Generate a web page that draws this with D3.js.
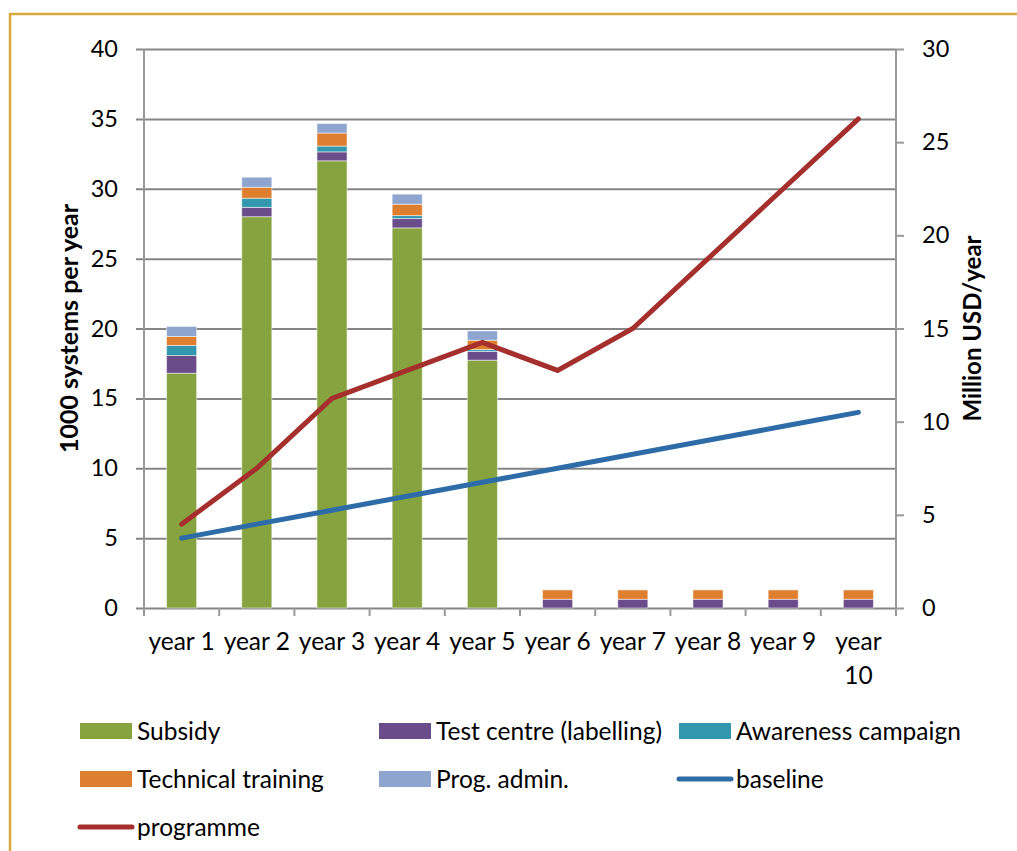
<!DOCTYPE html>
<meta charset="utf-8">
<title>Programme costs and systems per year</title>
<style>
    body {
        margin: 0;
        background: #fff;
    }
    text {
        font-family: Lato, "Open Sans", sans-serif;
        fill: #000;
    }
</style>

<body>
    <script src="https://d3js.org/d3.v7.min.js"></script>
    <script>
        /* Categories */
        var years = ["year 1", "year 2", "year 3", "year 4", "year 5", "year 6", "year 7", "year 8", "year 9", "year 10"];

        /* Cost components, million USD per year (right axis) */
        var subsidy = [12.6, 21.0, 24.0, 20.4, 13.3, 0, 0, 0, 0, 0];
        var testCentre = [0.95, 0.5, 0.48, 0.5, 0.47, 0.47, 0.47, 0.47, 0.47, 0.47];
        var awareness = [0.54, 0.49, 0.31, 0.16, 0.1, 0, 0, 0, 0, 0];
        var training = [0.48, 0.59, 0.7, 0.61, 0.5, 0.5, 0.5, 0.5, 0.5, 0.5];
        var admin = [0.54, 0.54, 0.51, 0.54, 0.5, 0, 0, 0, 0, 0];

        /* Systems, 1000 per year (left axis) */
        var baseline = [5, 6, 7, 8, 9, 10, 11, 12, 13, 14];
        var programme = [6, 10, 15, 17, 19, 17, 20, 25, 30, 35];

        var leftTicks = [0, 5, 10, 15, 20, 25, 30, 35, 40];
        var rightTicks = [0, 5, 10, 15, 20, 25, 30];

        var seriesNames = ["Subsidy", "Test centre (labelling)", "Awareness campaign", "Technical training", "Prog. admin."];
        var seriesColors = ["#86a33f", "#6a4c8b", "#3296ae", "#dd7f2e", "#8ea6cf"];

        /* Layout */
        var width = 1017,
            height = 851;
        var plotL = 144, plotR = 896, plotT = 49, plotB = 608;

        var svg = d3.select("body").append("svg")
            .attr("width", width)
            .attr("height", height);

        /* gold frame */
        svg.append("rect")
            .attr("x", 10)
            .attr("y", 14)
            .attr("width", 1100)
            .attr("height", 1000)
            .attr("fill", "#fff")
            .attr("stroke", "#d6ab3c")
            .attr("stroke-width", 2.5);

        var x = d3.scaleBand()
            .domain(years)
            .range([plotL, plotR])
            .paddingInner(0.6)
            .paddingOuter(0.3);
        var step = x.step();

        var yLeft = d3.scaleLinear().domain([0, 40]).range([plotB, plotT]);
        var yRight = d3.scaleLinear().domain([0, 30]).range([plotB, plotT]);

        /* gridlines + left axis */
        var leftAxis = d3.axisLeft(yLeft)
            .tickValues(leftTicks)
            .tickSize(-(plotR - plotL))
            .tickPadding(26);
        var gl = svg.append("g")
            .attr("transform", "translate(" + plotL + ",0)")
            .call(leftAxis);
        gl.select(".domain").remove();
        gl.selectAll(".tick line")
            .attr("x1", -8)
            .attr("stroke", "#858585")
            .attr("stroke-width", 2);
        gl.selectAll(".tick text")
            .style("font-size", "23.5px");

        /* right axis */
        var rightAxis = d3.axisRight(yRight)
            .tickValues(rightTicks)
            .tickSize(8)
            .tickPadding(18);
        var gr = svg.append("g")
            .attr("transform", "translate(" + plotR + ",0)")
            .call(rightAxis);
        gr.select(".domain")
            .attr("d", "M0," + plotT + "V" + plotB)
            .attr("stroke", "#999")
            .attr("stroke-width", 2);
        gr.selectAll(".tick line")
            .attr("stroke", "#999")
            .attr("stroke-width", 2);
        gr.selectAll(".tick text")
            .style("font-size", "23.5px");

        /* left axis line */
        svg.append("line")
            .attr("x1", plotL).attr("x2", plotL)
            .attr("y1", plotT).attr("y2", plotB)
            .attr("stroke", "#999")
            .attr("stroke-width", 2);

        /* x axis ticks between categories */
        var bounds = years.map(function (d) { return x(d) + x.bandwidth() / 2 - step / 2; });
        bounds.push(plotR);
        svg.selectAll("line.xtick")
            .data(bounds)
            .enter()
            .append("line")
            .attr("class", "xtick")
            .attr("x1", function (d) { return d; })
            .attr("x2", function (d) { return d; })
            .attr("y1", plotB)
            .attr("y2", plotB + 8)
            .attr("stroke", "#999")
            .attr("stroke-width", 2);

        /* x labels, last one wraps */
        years.forEach(function (d) {
            var cx = x(d) + x.bandwidth() / 2;
            var t = svg.append("text")
                .attr("x", cx)
                .attr("y", 650)
                .attr("text-anchor", "middle")
                .style("font-size", "24.5px");
            if (d === "year 10") {
                t.append("tspan").attr("x", cx).text("year");
                t.append("tspan").attr("x", cx).attr("dy", 34).text("10");
            } else {
                t.text(d);
            }
        });

        /* stacked bars */
        var table = years.map(function (d, i) {
            return { year: d, s0: subsidy[i], s1: testCentre[i], s2: awareness[i], s3: training[i], s4: admin[i] };
        });
        var stack = d3.stack().keys(["s0", "s1", "s2", "s3", "s4"])(table);

        svg.selectAll("g.series")
            .data(stack)
            .enter()
            .append("g")
            .attr("class", "series")
            .attr("fill", function (d, i) { return seriesColors[i]; })
            .selectAll("rect")
            .data(function (d) { return d.filter(function (p) { return p[1] - p[0] > 0; }); })
            .enter()
            .append("rect")
            .attr("x", function (d) { return x(d.data.year); })
            .attr("width", x.bandwidth())
            .attr("y", function (d) { return yRight(d[1]); })
            .attr("height", function (d) { return yRight(d[0]) - yRight(d[1]); })
            .attr("stroke", "#fff")
            .attr("stroke-opacity", 0.5)
            .attr("stroke-width", 1);

        /* lines */
        var line = d3.line()
            .x(function (d, i) { return x(years[i]) + x.bandwidth() / 2; })
            .y(function (d) { return yLeft(d); });

        svg.append("path")
            .datum(baseline)
            .attr("d", line)
            .attr("fill", "none")
            .attr("stroke", "#2e6ca8")
            .attr("stroke-width", 5)
            .attr("stroke-linecap", "round")
            .attr("stroke-linejoin", "round");

        svg.append("path")
            .datum(programme)
            .attr("d", line)
            .attr("fill", "none")
            .attr("stroke", "#a52f2c")
            .attr("stroke-width", 5)
            .attr("stroke-linecap", "round");

        /* axis titles */
        svg.append("text")
            .attr("transform", "translate(78," + (plotT + plotB) / 2 + ") rotate(-90)")
            .attr("text-anchor", "middle")
            .style("font-size", "25px")
            .style("font-weight", "bold")
            .text("1000 systems per year");

        svg.append("text")
            .attr("transform", "translate(981," + (plotT + plotB) / 2 + ") rotate(-90)")
            .attr("text-anchor", "middle")
            .style("font-size", "24px")
            .style("font-weight", "bold")
            .text("Million USD/year");

        /* legend */
        var legend = [
            { name: seriesNames[0], color: seriesColors[0], type: "rect", col: 0, row: 0 },
            { name: seriesNames[1], color: seriesColors[1], type: "rect", col: 1, row: 0 },
            { name: seriesNames[2], color: seriesColors[2], type: "rect", col: 2, row: 0 },
            { name: seriesNames[3], color: seriesColors[3], type: "rect", col: 0, row: 1 },
            { name: seriesNames[4], color: seriesColors[4], type: "rect", col: 1, row: 1 },
            { name: "baseline", color: "#2e6ca8", type: "line", col: 2, row: 1 },
            { name: "programme", color: "#a52f2c", type: "line", col: 0, row: 2 }
        ];
        var colX = [80, 379, 679];
        var rowY = [731, 779, 827];

        var items = svg.selectAll("g.legend")
            .data(legend)
            .enter()
            .append("g")
            .attr("class", "legend")
            .attr("transform", function (d) { return "translate(" + colX[d.col] + "," + rowY[d.row] + ")"; });

        items.each(function (d) {
            var g = d3.select(this);
            if (d.type === "rect") {
                g.append("rect")
                    .attr("x", 0).attr("y", -8)
                    .attr("width", 52).attr("height", 16)
                    .attr("fill", d.color);
            } else {
                g.append("line")
                    .attr("x1", 0).attr("x2", 52)
                    .attr("stroke", d.color)
                    .attr("stroke-width", 5)
                    .attr("stroke-linecap", "round");
            }
            g.append("text")
                .attr("x", 57)
                .attr("dy", "0.35em")
                .style("font-size", "24.5px")
                .text(d.name);
        });
    </script>
</body>
